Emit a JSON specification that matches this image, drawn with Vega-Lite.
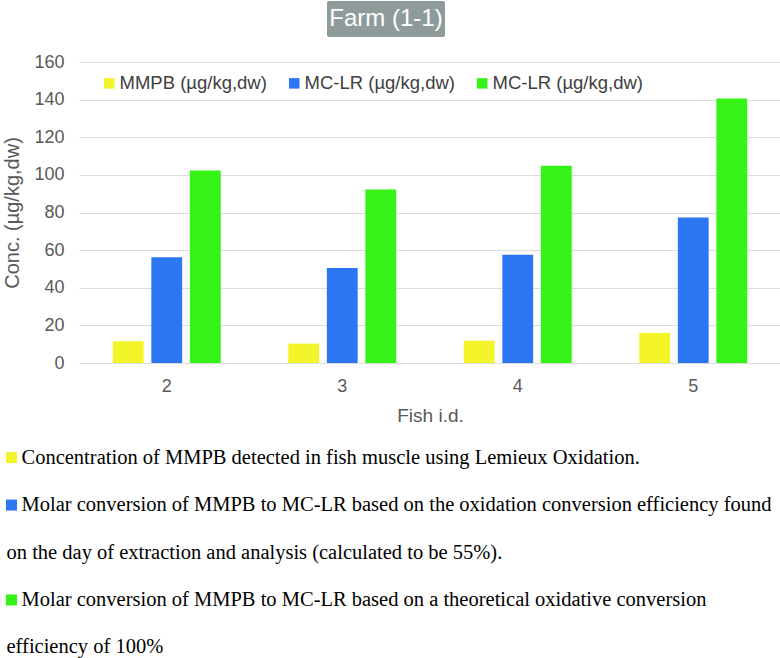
{
  "$schema": "https://vega.github.io/schema/vega-lite/v6.json",
  "background": "white",
  "padding": {"left": 2, "top": 1, "right": 0, "bottom": 0},
  "spacing": 16,
  "datasets": {
    "bars": [
      {"fish": "2", "series": "MMPB", "value": 11.6},
      {"fish": "2", "series": "MC-LR55", "value": 56.2},
      {"fish": "2", "series": "MC-LR100", "value": 102.3},
      {"fish": "3", "series": "MMPB", "value": 10.3},
      {"fish": "3", "series": "MC-LR55", "value": 50.5},
      {"fish": "3", "series": "MC-LR100", "value": 92.2},
      {"fish": "4", "series": "MMPB", "value": 11.9},
      {"fish": "4", "series": "MC-LR55", "value": 57.6},
      {"fish": "4", "series": "MC-LR100", "value": 104.9},
      {"fish": "5", "series": "MMPB", "value": 16.0},
      {"fish": "5", "series": "MC-LR55", "value": 77.3},
      {"fish": "5", "series": "MC-LR100", "value": 140.6}
    ],
    "caption": [
      {"line": 1, "series": "MMPB", "kind": "key", "text": "Concentration of MMPB detected in fish muscle using Lemieux Oxidation."},
      {"line": 2, "series": "MC-LR55", "kind": "key", "text": "Molar conversion of MMPB to MC-LR based on the oxidation conversion efficiency found"},
      {"line": 3, "series": null, "kind": "cont", "text": "on the day of extraction and analysis (calculated to be 55%)."},
      {"line": 4, "series": "MC-LR100", "kind": "key", "text": "Molar conversion of MMPB to MC-LR based on a theoretical oxidative conversion"},
      {"line": 5, "series": null, "kind": "cont", "text": "efficiency of 100%"}
    ],
    "title": [{"label": "Farm (1-1)"}]
  },
  "resolve": {"scale": {"color": "independent"}, "legend": {"color": "independent"}},
  "vconcat": [
    {
      "spacing": 16,
      "hconcat": [
        {
          "width": 232,
          "height": 36,
          "data": {"values": []},
          "mark": {"type": "point", "opacity": 0},
          "encoding": {}
        },
        {
          "width": 118,
          "height": 36,
          "view": {"fill": "#8f9b9b", "stroke": null, "cornerRadius": 2},
          "data": {"name": "title"},
          "mark": {"type": "text", "color": "white", "font": "Liberation Sans", "fontSize": 24, "baseline": "middle", "align": "center"},
          "encoding": {"text": {"field": "label"}}
        }
      ]
    },
    {
      "width": 702,
      "height": 301,
      "data": {"name": "bars"},
      "mark": {"type": "bar"},
      "encoding": {
        "x": {
          "field": "fish", "type": "nominal",
          "scale": {"paddingInner": 0.385, "paddingOuter": 0.1925},
          "axis": {"title": "Fish i.d.", "labelAngle": 0, "domain": false, "ticks": false, "grid": false, "labelPadding": 14, "titlePadding": 11,
                   "labelFont": "Liberation Sans", "labelFontSize": 18, "labelColor": "#595959",
                   "titleFont": "Liberation Sans", "titleFontSize": 19, "titleFontWeight": "normal", "titleColor": "#595959"}
        },
        "xOffset": {"field": "series", "type": "nominal", "sort": ["MMPB", "MC-LR55", "MC-LR100"], "scale": {"paddingInner": 0.2, "paddingOuter": 0}},
        "y": {
          "field": "value", "type": "quantitative",
          "scale": {"domain": [0, 160], "nice": false},
          "axis": {"title": "Conc. (µg/kg,dw)", "values": [0, 20, 40, 60, 80, 100, 120, 140, 160], "domain": false, "ticks": false, "grid": true,
                   "labelPadding": 15, "titlePadding": 11, "gridColor": "#dcdcdc", "gridWidth": 1.2,
                   "labelFont": "Liberation Sans", "labelFontSize": 18, "labelColor": "#595959",
                   "titleFont": "Liberation Sans", "titleFontSize": 20, "titleFontWeight": "normal", "titleColor": "#595959"}
        },
        "color": {
          "field": "series", "type": "nominal",
          "scale": {"domain": ["MMPB", "MC-LR55", "MC-LR100"], "range": ["#f4f42a", "#2c76f2", "#35f316"]},
          "legend": {
            "title": null, "orient": "none", "direction": "horizontal", "legendX": 21, "legendY": 12,
            "symbolType": "square", "symbolSize": 110, "symbolStrokeWidth": 0, "labelOffset": 1, "columnPadding": 18, "padding": 0,
            "labelFont": "Liberation Sans", "labelFontSize": 18.5, "labelColor": "#404040",
            "labelExpr": "datum.label == 'MMPB' ? 'MMPB (µg/kg,dw)' : 'MC-LR (µg/kg,dw)'"
          }
        }
      }
    },
    {
      "width": 690,
      "height": 223,
      "data": {"name": "caption"},
      "encoding": {
        "y": {"field": "line", "type": "ordinal", "scale": {"type": "point", "padding": 0.35}, "axis": null}
      },
      "layer": [
        {
          "transform": [{"filter": "datum.series != null"}],
          "mark": {"type": "point", "shape": "square", "filled": true, "size": 121, "opacity": 1},
          "encoding": {
            "x": {"datum": "sq", "type": "nominal", "scale": {"type": "point", "domain": ["cont", "sq", "mid", "key"], "range": [-75, -55]}, "axis": null},
            "color": {"field": "series", "type": "nominal",
                      "scale": {"domain": ["MMPB", "MC-LR55", "MC-LR100"], "range": ["#f4f42a", "#2c76f2", "#35f316"]},
                      "legend": null}
          }
        },
        {
          "mark": {"type": "text", "align": "left", "baseline": "middle", "font": "Liberation Serif", "fontSize": 20.5, "color": "black"},
          "encoding": {
            "x": {"field": "kind", "type": "nominal", "scale": {"type": "point", "domain": ["cont", "sq", "mid", "key"], "range": [-75, -55]}, "axis": null},
            "text": {"field": "text"}
          }
        }
      ]
    }
  ],
  "config": {
    "view": {"stroke": null}
  }
}
